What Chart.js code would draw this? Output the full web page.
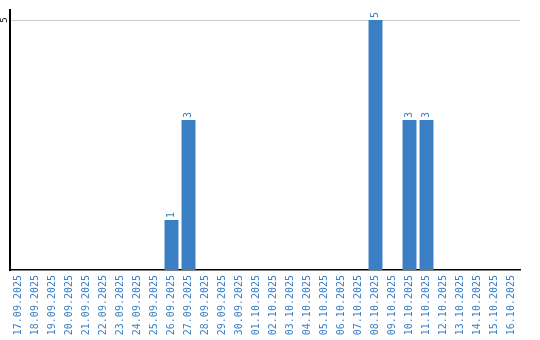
<!DOCTYPE html>
<html>
<head>
<meta charset="utf-8">
<script src="https://cdn.jsdelivr.net/npm/chart.js@4/dist/chart.umd.min.js"></script>
<style>
  html, body { margin: 0; padding: 0; background: #fff; }
  #wrap { width: 540px; height: 340px; }
</style>
</head>
<body>
<div id="wrap"><canvas id="chart"></canvas></div>
<script>
const days = [
  '17.09.2025', '18.09.2025', '19.09.2025', '20.09.2025', '21.09.2025',
  '22.09.2025', '23.09.2025', '24.09.2025', '25.09.2025', '26.09.2025',
  '27.09.2025', '28.09.2025', '29.09.2025', '30.09.2025', '01.10.2025',
  '02.10.2025', '03.10.2025', '04.10.2025', '05.10.2025', '06.10.2025',
  '07.10.2025', '08.10.2025', '09.10.2025', '10.10.2025', '11.10.2025',
  '12.10.2025', '13.10.2025', '14.10.2025', '15.10.2025', '16.10.2025'
];
const counts = [
  0, 0, 0, 0, 0, 0, 0, 0, 0, 1,
  3, 0, 0, 0, 0, 0, 0, 0, 0, 0,
  0, 5, 0, 3, 3, 0, 0, 0, 0, 0
];
const yTicks = [5];

const blue = '#3a7ec4';

// value labels above bars, rotated, plus the rotated y tick
const extras = {
  id: 'extras',
  afterDatasetsDraw(chart) {
    const ctx = chart.ctx;
    const meta = chart.getDatasetMeta(0);
    ctx.save();
    ctx.fillStyle = blue;
    ctx.font = '10px "DejaVu Sans Mono"';
    ctx.textAlign = 'left';
    ctx.textBaseline = 'middle';
    meta.data.forEach((bar, i) => {
      if (!counts[i]) return;
      ctx.save();
      ctx.translate(bar.x, bar.y - 2);
      ctx.rotate(-Math.PI / 2);
      ctx.fillText(String(counts[i]), 0, 0);
      ctx.restore();
    });
    const y = chart.scales.y;
    ctx.fillStyle = '#000';
    ctx.font = '9px "DejaVu Sans Mono"';
    ctx.textAlign = 'center';
    yTicks.forEach(t => {
      ctx.save();
      ctx.translate(5, y.getPixelForValue(t));
      ctx.rotate(-Math.PI / 2);
      ctx.fillText(String(t), 0, 0);
      ctx.restore();
    });
    ctx.restore();
  }
};

new Chart(document.getElementById('chart'), {
  type: 'bar',
  data: {
    labels: days,
    datasets: [{
      data: counts,
      backgroundColor: blue,
      categoryPercentage: 1,
      barPercentage: 0.82
    }]
  },
  options: {
    responsive: true,
    maintainAspectRatio: false,
    animation: false,
    layout: { padding: { top: 10, right: 20, left: 0, bottom: 0 } },
    plugins: {
      legend: { display: false },
      tooltip: { enabled: false }
    },
    scales: {
      x: {
        grid: { display: false, drawTicks: false },
        border: { color: '#000', width: 1.5 },
        ticks: {
          color: blue,
          font: { family: 'DejaVu Sans Mono', size: 10 },
          minRotation: 90,
          maxRotation: 90,
          autoSkip: false,
          padding: 5
        },
        afterFit(scale) { scale.height = 70; }
      },
      y: {
        min: 0,
        max: 5.2,
        afterBuildTicks(scale) {
          scale.ticks = yTicks.map(v => ({ value: v }));
        },
        grid: { color: '#cccccc', drawTicks: false },
        border: { color: '#000', width: 2 },
        ticks: { display: false },
        afterFit(scale) { scale.width = 10; }
      }
    }
  },
  plugins: [extras]
});
</script>
</body>
</html>
